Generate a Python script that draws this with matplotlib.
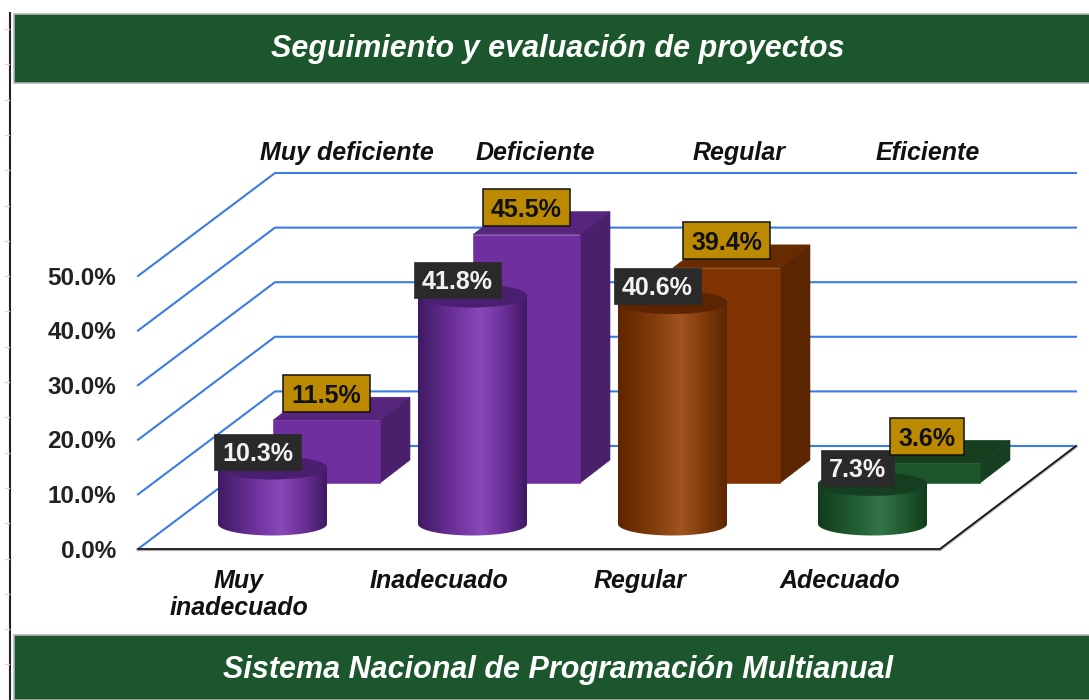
import numpy as np
import matplotlib
matplotlib.use("Agg")
import matplotlib.pyplot as plt
from matplotlib.colors import LinearSegmentedColormap
from matplotlib.patches import Ellipse, Polygon, Rectangle, PathPatch
from matplotlib.path import Path

# ---- data ----
title = "Seguimiento y evaluación de proyectos"
footer = "Sistema Nacional de Programación Multianual"
front_categories = ["Muy\ninadecuado", "Inadecuado", "Regular", "Adecuado"]
back_categories = ["Muy deficiente", "Deficiente", "Regular", "Eficiente"]
front_values = [10.3, 41.8, 40.6, 7.3]
back_values = [11.5, 45.5, 39.4, 3.6]
axis_ticks = [0, 10, 20, 30, 40, 50]

# ---- styles ----
GREEN = "#1c562c"
GRID = "#3a7be6"
front_colors = [
    ("#3f1a63", "#6a2f96", "#8a48bb", "#4b1f70"),
    ("#3f1a63", "#6a2f96", "#8a48bb", "#4b1f70"),
    ("#5e2600", "#7f3a0a", "#a0541f", "#5a2500"),
    ("#123d1c", "#1f5a30", "#34744a", "#153f20"),
]
back_colors = [
    ("#702f9e", "#4a1f6b", "#55267c"),
    ("#702f9e", "#4a1f6b", "#55267c"),
    ("#7f3300", "#5a2500", "#682b00"),
    ("#1c552a", "#153f20", "#163f20"),
]

PX_PER_UNIT = 5.46
FLOOR_FRONT_Y, FLOOR_BACK_Y = 549, 446
FRONT_X0, BACK_X0, BACK_X1, FRONT_X1 = 138, 275, 1076, 940
CYL_BASE_Y, CYL_LEFT0, CYL_W, CYL_STEP, CYL_RY = 524, 218, 109, 200, 11.5
BAR_BASE_Y, BAR_LEFT0, BAR_W, BAR_STEP, BAR_DX, BAR_DY = 483, 273, 107, 200, 30, 23

plt.rcParams["font.family"] = ["Liberation Sans", "DejaVu Sans"]
fig = plt.figure(figsize=(10.89, 7.0), dpi=100, facecolor="white")
ax = fig.add_axes([0, 0, 1, 1])
ax.set_axis_off()


def h(v):
    return v * PX_PER_UNIT


# left frame with faint ticks
ax.plot([9.5, 9.5], [12, 700], color="#222222", lw=1.5, zorder=1, solid_capstyle="butt")
for yy in np.arange(29, 700, 35.3):
    ax.plot([5, 8.5], [yy, yy], color="#d8d8d8", lw=0.9, zorder=1)

# header and footer
for y0, y1 in [(14, 83), (635, 700)]:
    ax.add_patch(Rectangle((14, y0), 1080, y1 - y0, facecolor=GREEN,
                           edgecolor="#b4b4b4", lw=1.2, zorder=2))
for txt, cx, base in [(title, 558, 57), (footer, 558, 678)]:
    ax.text(cx, base, txt, color="white", fontsize=22, fontweight="bold",
            fontstyle="italic", ha="center", va="baseline", zorder=3)

# gridlines
for t in axis_ticks:
    ax.plot([FRONT_X0, BACK_X0, BACK_X1],
            [FLOOR_FRONT_Y - h(t), FLOOR_BACK_Y - h(t), FLOOR_BACK_Y - h(t)],
            color=GRID, lw=1.5, zorder=4, solid_joinstyle="miter")
# floor edges
ax.plot([FRONT_X0, FRONT_X1, BACK_X1], [FLOOR_FRONT_Y + .6, FLOOR_FRONT_Y + .6, FLOOR_BACK_Y + .6],
        color="#aaaaaa", lw=2.2, zorder=4.5, solid_joinstyle="miter")
ax.plot([FRONT_X0, FRONT_X1, BACK_X1], [FLOOR_FRONT_Y, FLOOR_FRONT_Y, FLOOR_BACK_Y],
        color="#111111", lw=1.2, zorder=4.6, solid_joinstyle="miter")

# back row: boxes
for i, (v, (cf, cs, ct)) in enumerate(zip(back_values, back_colors)):
    x0 = BAR_LEFT0 + i * BAR_STEP
    x1 = x0 + BAR_W
    top = BAR_BASE_Y - h(v)
    ax.add_patch(Polygon([(x0, top), (x1, top), (x1 + BAR_DX, top - BAR_DY),
                          (x0 + BAR_DX, top - BAR_DY)], closed=True, fc=ct, ec=ct, lw=.4, zorder=5))
    ax.add_patch(Polygon([(x1, top), (x1 + BAR_DX, top - BAR_DY),
                          (x1 + BAR_DX, BAR_BASE_Y - BAR_DY), (x1, BAR_BASE_Y)],
                         closed=True, fc=cs, ec=cs, lw=.4, zorder=5))
    ax.add_patch(Rectangle((x0, top), BAR_W, h(v), fc=cf, ec=cf, lw=.4, zorder=5.1))

# front row: cylinders
for i, (v, (c0, c1, c2, ctop)) in enumerate(zip(front_values, front_colors)):
    x0 = CYL_LEFT0 + i * CYL_STEP
    x1 = x0 + CYL_W
    cx = (x0 + x1) / 2
    top = CYL_BASE_Y - h(v)
    cmap = LinearSegmentedColormap.from_list(
        "c", [(0, c0), (.3, c1), (.58, c2), (.8, c1), (1, c0)])
    th = np.linspace(0, np.pi, 60)
    ex = cx + CYL_W / 2 * np.cos(th)
    ey = CYL_BASE_Y + CYL_RY * np.sin(th)
    verts = [(x1, top)] + list(zip(ex, ey)) + [(x0, top), (x1, top)]
    codes = [Path.MOVETO] + [Path.LINETO] * (len(verts) - 1)
    clip = PathPatch(Path(verts, codes), transform=ax.transData, fc="none", ec="none")
    ax.add_patch(clip)
    im = ax.imshow(np.linspace(0, 1, 128).reshape(1, -1), cmap=cmap, aspect="auto",
                   extent=[x0, x1, CYL_BASE_Y + CYL_RY + 1, top], zorder=6, interpolation="bilinear")
    im.set_clip_path(clip)
    ax.add_patch(Ellipse((cx, top), CYL_W, 2 * CYL_RY, fc=ctop, ec=ctop, lw=.3, zorder=6.1))

# labels: dark, then gold on top
for i, v in enumerate(front_values):
    cx = CYL_LEFT0 + i * CYL_STEP + CYL_W / 2
    top = CYL_BASE_Y - h(v)
    w = 73 if v < 10 else 87
    ax.add_patch(Rectangle((cx - 15 - w / 2, top - 16 - 18), w, 36,
                           fc="#2a2a2a", ec="#2a2a2a", lw=.5, zorder=7))
    ax.text(cx - 15, top - 16 + 9, f"{v:.1f}%", color="#f2f2f2", fontsize=18, fontweight="bold",
            ha="center", va="baseline", zorder=7.1)
for i, v in enumerate(back_values):
    cx = BAR_LEFT0 + i * BAR_STEP + BAR_W / 2
    top = BAR_BASE_Y - h(v)
    w = 74 if v < 10 else 87
    ax.add_patch(Rectangle((cx - w / 2, top - 27 - 18.5), w, 37,
                           fc="#bb8a00", ec="#111111", lw=1.1, zorder=8))
    ax.text(cx, top - 27 + 9.5, f"{v:.1f}%", color="#111111", fontsize=18, fontweight="bold",
            ha="center", va="baseline", zorder=8.1)

# axis labels
for t in axis_ticks:
    ax.text(116, FLOOR_FRONT_Y + 8.6 - h(t), f"{t:.1f}%", color="#222222", fontsize=17.5,
            fontweight="bold", ha="right", va="baseline", zorder=3)
for lab, cx in zip(front_categories, [239, 439, 640, 840]):
    lines = lab.split("\n")
    for j, line in enumerate(lines):
        ax.text(cx, 588 + 27 * j, line, color="#111111", fontsize=18, fontweight="bold",
                fontstyle="italic", ha="center", va="baseline", zorder=3)
for lab, cx in zip(back_categories, [347, 535, 739, 928]):
    ax.text(cx, 160, lab, color="#111111", fontsize=18, fontweight="bold", fontstyle="italic",
            ha="center", va="baseline", zorder=3)

ax.set_xlim(0, 1089)
ax.set_ylim(700, 0)
fig.savefig("out.png", dpi=100, facecolor="white")
